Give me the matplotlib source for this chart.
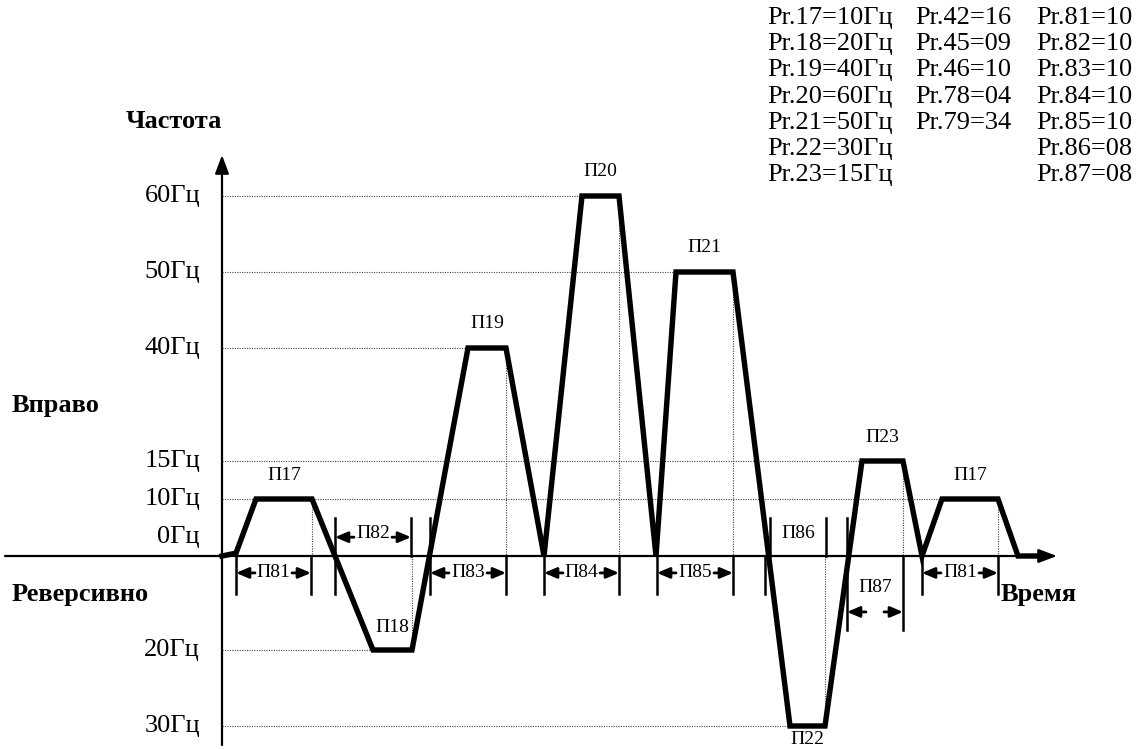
import numpy as np
import matplotlib.pyplot as plt

plt.rcParams['font.family'] = ['Liberation Serif', 'DejaVu Serif']

# frequency profile (time in arbitrary units, frequency in Hz; reverse < 0)
times = [0, 14, 34, 90, 151, 190, 246, 284, 322, 360, 397, 434, 454, 511,
         568, 603, 640, 681, 700, 720, 776, 796, 813]
freqs = [0, 0.5, 10, 10, -20, -20, 40, 40, 0, 60, 60, 0, 50, 50,
         -30, -30, 15, 15, 0, 10, 10, 0, 0]
peak_names = ["П17", "П18", "П19", "П20", "П21", "П22", "П23", "П17"]

freq_ticks = [60, 50, 40, 15, 10, 0, -20, -30]
tick_labels = ["60Гц", "50Гц", "40Гц", "15Гц", "10Гц", "0Гц", "20Гц", "30Гц"]

# time intervals
interval_names = ["П81", "П82", "П83", "П84", "П85", "П86", "П87", "П81"]
interval_start = [14, 113, 208, 322, 435, 548, 625, 700]
interval_end = [89, 189, 284, 397, 511, 604, 681, 776]
interval_row = ["low", "high", "low", "low", "low", "high", "lower", "low"]

marker_t = [14, 89, 113, 189, 208, 284, 322, 397, 435, 511, 543, 548, 604,
            625, 681, 700, 776]
marker_lo = [-8, -8, -8, 0, -8, -8, -8, -8, -8, -8, -8, 0, 0, -15.7, -15.7, -8, -8]
marker_hi = [0, 0, 6.7, 6.7, 6.7, 0, 0, 0, 0, 0, 0, 6.7, 6.7, 6.7, 0, 0, 0]

# parameter table
col1 = ["Pr.17=10Гц", "Pr.18=20Гц", "Pr.19=40Гц", "Pr.20=60Гц",
        "Pr.21=50Гц", "Pr.22=30Гц", "Pr.23=15Гц"]
col2 = ["Pr.42=16", "Pr.45=09", "Pr.46=10", "Pr.78=04", "Pr.79=34"]
col3 = ["Pr.81=10", "Pr.82=10", "Pr.83=10", "Pr.84=10", "Pr.85=10",
        "Pr.86=08", "Pr.87=08"]

# schematic (non-linear) frequency axis
scale_freq = [-40, -30, -20, 0, 10, 15, 40, 50, 60, 100]
scale_pos = [-246, -170, -94, 0, 57, 95, 208, 284, 360, 664]


def fwd(f):
    return np.interp(f, scale_freq, scale_pos)


def inv(p):
    return np.interp(p, scale_pos, scale_freq)


W, H = 1144, 749
fig = plt.figure(figsize=(W / 100, H / 100), dpi=100)
ax = fig.add_axes([0, 0, 1, 1])
ax.set_yscale('function', functions=(fwd, inv))
ax.set_xlim(-222, 922)
ax.set_ylim(inv(-193), inv(556))
ax.axis('off')

dot = dict(color='#444444', lw=0.8, ls=(0, (1, 1.2)))

# plateaus
plateaus = []
for i in range(len(times) - 1):
    if freqs[i] == freqs[i + 1] and freqs[i] != 0:
        plateaus.append((times[i], times[i + 1], freqs[i]))

# horizontal dotted guides up to the last plateau at each level
for f in freq_ticks:
    if f == 0:
        continue
    ends = [p[0] for p in plateaus if p[2] == f]
    ax.plot([0, ends[-1]], [f, f], **dot)

# vertical dotted guides from plateau ends to zero
for t0, t1, f in plateaus:
    ax.plot([t1, t1], [f, 0], **dot)

# axes with arrows
axis_arrow = dict(arrowstyle='-|>,head_length=0.8,head_width=0.3',
                  color='k', lw=1.6, shrinkA=0, shrinkB=0, mutation_scale=14)
ax.annotate('', xy=(835, 0), xytext=(-217, 0), arrowprops=axis_arrow)
ax.annotate('', xy=(0, inv(401)), xytext=(0, inv(-189)), arrowprops=axis_arrow)

# profile
ax.plot(times, freqs, color='k', lw=3.9, solid_joinstyle='miter', zorder=5)

# peak labels
peak_dy = [24, 23, 25, 24, 25, -14, 24, 24]
for (t0, t1, f), name, dy in zip(plateaus, peak_names, peak_dy):
    ax.annotate(name, ((t0 + t1) / 2, f), xytext=(0, dy), textcoords='offset pixels',
                ha='center', va='center', fontsize=14)

# interval markers
for t, lo, hi in zip(marker_t, marker_lo, marker_hi):
    ax.plot([t, t], [lo, hi], color='k', lw=1.8)

dim_arrow = dict(arrowstyle='-|>,head_length=0.75,head_width=0.32',
                 color='k', lw=2.0, shrinkA=0, shrinkB=0, mutation_scale=10)
arrow_y = {"low": -3.6, "high": 3.3, "lower": -11.9}
text_y = {"low": -3.6, "high": 4.0, "lower": -6.8}
for name, ts, te, row in zip(interval_names, interval_start, interval_end, interval_row):
    ya = arrow_y[row]
    if name != "П86":
        for tip, tail in [(ts, ts + 19), (te, te - 19)]:
            ax.annotate('', xy=(tip, ya), xytext=(tail, ya), arrowprops=dim_arrow)
    ax.text((ts + te) / 2, text_y[row], name, ha='center', va='center', fontsize=14)

# frequency tick labels
for f, lab in zip(freq_ticks, tick_labels):
    dy = 19 if f == 0 else 0
    ax.annotate(lab, (0, f), xytext=(-22, dy), textcoords='offset pixels',
                ha='right', va='center', fontsize=19)


def px(x, y):
    return x / W, 1 - y / H


bold = dict(fontsize=19, fontweight='bold', va='center')
fig.text(*px(174, 122), "Частота", ha='center', **bold)
fig.text(*px(12, 405), "Вправо", ha='left', **bold)
fig.text(*px(12, 595), "Реверсивно", ha='left', **bold)
fig.text(*px(1001, 595), "Время", ha='left', **bold)

row_h = 26.2
for i, s in enumerate(col1):
    fig.text(*px(767, 18 + i * row_h), s, ha='left', va='center', fontsize=19)
for i, s in enumerate(col2):
    fig.text(*px(915, 18 + i * row_h), s, ha='left', va='center', fontsize=19)
for i, s in enumerate(col3):
    fig.text(*px(1132, 18 + i * row_h), s, ha='right', va='center', fontsize=19)

fig.savefig('out.png', dpi=100)
